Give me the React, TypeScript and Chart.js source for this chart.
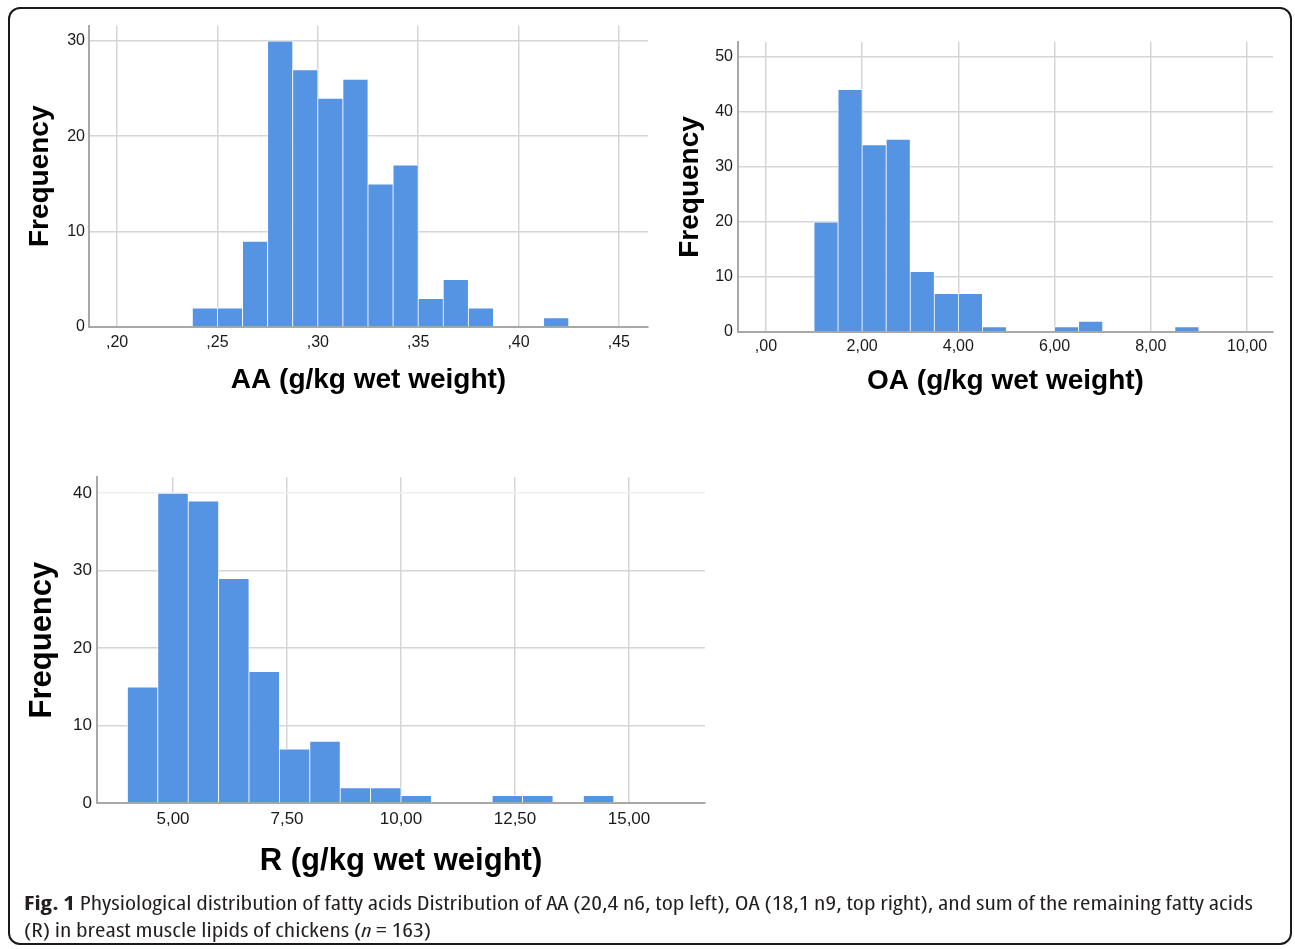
import React, { useEffect, useLayoutEffect, useRef } from "react";
import { Chart, registerables } from "chart.js";

Chart.register(...registerables);

// ---------- data ----------
const AA_BIN_STARTS = [0.2375, 0.25, 0.2625, 0.275, 0.2875, 0.3, 0.3125, 0.325, 0.3375, 0.35, 0.3625, 0.375, 0.3875, 0.4, 0.4125];
const AA_COUNTS = [2, 2, 9, 30, 27, 24, 26, 15, 17, 3, 5, 2, 0, 0, 1];
const AA_BIN_WIDTH = 0.0125;
const AA_X_TICKS = [0.2, 0.25, 0.3, 0.35, 0.4, 0.45];
const AA_Y_TICKS = [0, 10, 20, 30];

const OA_BIN_STARTS = [1, 1.5, 2, 2.5, 3, 3.5, 4, 4.5, 5, 5.5, 6, 6.5, 7, 7.5, 8, 8.5];
const OA_COUNTS = [20, 44, 34, 35, 11, 7, 7, 1, 0, 0, 1, 2, 0, 0, 0, 1];
const OA_BIN_WIDTH = 0.5;
const OA_X_TICKS = [0, 2, 4, 6, 8, 10];
const OA_Y_TICKS = [0, 10, 20, 30, 40, 50];

const R_BIN_STARTS = [4, 4.6667, 5.3333, 6, 6.6667, 7.3333, 8, 8.6667, 9.3333, 10, 10.6667, 11.3333, 12, 12.6667, 13.3333, 14];
const R_COUNTS = [15, 40, 39, 29, 17, 7, 8, 2, 2, 1, 0, 0, 1, 1, 0, 1];
const R_BIN_WIDTH = 0.6667;
const R_X_TICKS = [5, 7.5, 10, 12.5, 15];
const R_Y_TICKS = [0, 10, 20, 30, 40];

const AXIS_TITLE_Y = "Frequency";
const AA_TITLE = "AA (g/kg wet weight)";
const OA_TITLE = "OA (g/kg wet weight)";
const R_TITLE = "R (g/kg wet weight)";

// ---------- styles ----------
const BAR_COLOR = "#5594e3";
const BAR_EDGE = "rgba(255,255,255,0.9)";
const GRID_COLOR = "#d6d6d6";
const AXIS_COLOR = "#a8a8a8";
const TEXT_COLOR = "#1a1a1a";
const FONT = "'Liberation Sans', Arial, Helvetica, sans-serif";

const fmtComma = (v: number) => v.toFixed(2).replace(".", ",").replace(/^0,/, ",");

type Spec = {
  starts: number[];
  counts: number[];
  binWidth: number;
  xTicks: number[];
  yTicks: number[];
  xMin: number;
  xMax: number;
  yMax: number;
  xTitle: string;
  canvas: { x: number; y: number; w: number; h: number };
  area: { left: number; top: number; right: number; bottom: number };
  tickSize: number;
  titleSize: number;
  xTickPad: number;
  yTickPad: number;
  yTitleMid: number;
  xTitleMid: number;
  fadeTop?: number;
};

function buildConfig(s: Spec): any {
  const c = s.canvas;
  const a = s.area;
  const yWidth = a.left - c.x;
  const xHeight = c.y + c.h - a.bottom;
  const padTop = a.top - c.y;
  const padRight = c.x + c.w - a.right;
  const titleLH = s.titleSize * 1.2;
  const yTitlePad = s.yTitleMid - c.x - titleLH / 2;
  const xTitlePad = c.y + c.h - s.xTitleMid - titleLH / 2;
  return {
    type: "bar",
    data: {
      datasets: [
        {
          data: s.starts.map((st, i) => ({ x: st + s.binWidth / 2, y: s.counts[i] })),
          backgroundColor: BAR_COLOR,
          borderColor: BAR_EDGE,
          borderWidth: { top: 1, left: 0.75, right: 0.75, bottom: 0 },
          borderSkipped: false,
          barPercentage: 1,
          categoryPercentage: 1,
          grouped: false,
        },
      ],
    },
    options: {
      responsive: false,
      maintainAspectRatio: false,
      animation: false,
      events: [],
      layout: { padding: { top: padTop, right: padRight, left: 0, bottom: 0 } },
      plugins: { legend: { display: false }, tooltip: { enabled: false }, title: { display: false } },
      scales: {
        x: {
          type: "linear",
          min: s.xMin,
          max: s.xMax,
          offset: false,
          afterBuildTicks: (sc: any) => {
            sc.ticks = s.xTicks.map((v) => ({ value: v }));
          },
          afterFit: (sc: any) => {
            sc.height = xHeight;
          },
          grid: { offset: false, color: GRID_COLOR, lineWidth: 1.5, drawTicks: false },
          border: { display: true, color: AXIS_COLOR, width: 2 },
          ticks: {
            autoSkip: false,
            maxRotation: 0,
            minRotation: 0,
            padding: s.xTickPad,
            color: TEXT_COLOR,
            font: { family: FONT, size: s.tickSize },
            callback: (v: number) => fmtComma(v),
          },
          title: {
            display: true,
            text: s.xTitle,
            color: "#000",
            font: { family: FONT, size: s.titleSize, weight: "bold" },
            padding: { top: 0, bottom: xTitlePad },
          },
        },
        y: {
          type: "linear",
          min: 0,
          max: s.yMax,
          afterBuildTicks: (sc: any) => {
            sc.ticks = s.yTicks.map((v) => ({ value: v }));
          },
          afterFit: (sc: any) => {
            sc.width = yWidth;
          },
          grid: {
            color: (ctx: any) =>
              s.fadeTop !== undefined && ctx.tick && ctx.tick.value === s.fadeTop ? "#efefef" : GRID_COLOR,
            lineWidth: 1.5,
            drawTicks: false,
          },
          border: { display: true, color: AXIS_COLOR, width: 2 },
          ticks: {
            autoSkip: false,
            padding: s.yTickPad,
            color: TEXT_COLOR,
            font: { family: FONT, size: s.tickSize },
            callback: (v: number) => String(v),
          },
          title: {
            display: true,
            text: AXIS_TITLE_Y,
            color: "#000",
            font: { family: FONT, size: s.titleSize, weight: "bold" },
            padding: { top: yTitlePad, bottom: 0 },
          },
        },
      },
    },
  };
}

const SPEC_AA: Spec = {
  starts: AA_BIN_STARTS,
  counts: AA_COUNTS,
  binWidth: AA_BIN_WIDTH,
  xTicks: AA_X_TICKS,
  yTicks: AA_Y_TICKS,
  xMin: 0.186,
  xMax: 0.4645,
  yMax: 31.6,
  xTitle: AA_TITLE,
  canvas: { x: 12, y: 12, w: 645, h: 400 },
  area: { left: 89, top: 25, right: 648, bottom: 327 },
  tickSize: 16,
  titleSize: 28,
  xTickPad: 6,
  yTickPad: 4,
  yTitleMid: 40,
  xTitleMid: 380.5,
};

const SPEC_OA: Spec = {
  starts: OA_BIN_STARTS,
  counts: OA_COUNTS,
  binWidth: OA_BIN_WIDTH,
  xTicks: OA_X_TICKS,
  yTicks: OA_Y_TICKS,
  xMin: -0.58,
  xMax: 10.54,
  yMax: 52.6,
  xTitle: OA_TITLE,
  canvas: { x: 668, y: 26, w: 615, h: 386 },
  area: { left: 738, top: 42, right: 1273, bottom: 332 },
  tickSize: 16,
  titleSize: 28,
  xTickPad: 4.5,
  yTickPad: 5,
  yTitleMid: 690,
  xTitleMid: 381.5,
};

const SPEC_R: Spec = {
  starts: R_BIN_STARTS,
  counts: R_COUNTS,
  binWidth: R_BIN_WIDTH,
  xTicks: R_X_TICKS,
  yTicks: R_Y_TICKS,
  xMin: 3.333,
  xMax: 16.667,
  yMax: 42.06,
  xTitle: R_TITLE,
  canvas: { x: 12, y: 462, w: 705, h: 430 },
  area: { left: 97, top: 475, right: 705, bottom: 803 },
  tickSize: 17,
  titleSize: 31,
  xTickPad: 6.4,
  yTickPad: 5,
  yTitleMid: 42,
  xTitleMid: 861,
  fadeTop: 40,
};

function Histogram({ spec }: { spec: Spec }) {
  const ref = useRef<HTMLCanvasElement>(null);
  useEffect(() => {
    if (!ref.current) return;
    const chart = new Chart(ref.current, buildConfig(spec));
    return () => chart.destroy();
  }, [spec]);
  const c = spec.canvas;
  return (
    <canvas
      ref={ref}
      width={c.w}
      height={c.h}
      style={{ position: "absolute", left: c.x, top: c.y, width: c.w, height: c.h }}
    />
  );
}

const CAPTION_LABEL = "Fig. 1";
const CAPTION_LINE1 =
  " Physiological distribution of fatty acids Distribution of AA (20,4 n6, top left), OA (18,1 n9, top right), and sum of the remaining fatty acids";
const CAPTION_LINE2_A = "(R) in breast muscle lipids of chickens (";
const CAPTION_LINE2_N = "n";
const CAPTION_LINE2_B = " = 163)";

function Caption() {
  const l1 = useRef<HTMLSpanElement>(null);
  const l2 = useRef<HTMLSpanElement>(null);
  useLayoutEffect(() => {
    if (!l1.current || !l2.current) return;
    const w = l1.current.getBoundingClientRect().width;
    const sc = 1229 / w;
    l1.current.style.transform = `scaleX(${sc})`;
    l2.current.style.transform = `scaleX(${sc})`;
  }, []);
  const lineStyle: React.CSSProperties = {
    display: "inline-block",
    whiteSpace: "nowrap",
    transformOrigin: "0 0",
  };
  return (
    <div
      style={{
        position: "absolute",
        left: 24,
        top: 890,
        fontFamily: "'Liberation Sans Narrow', 'Open Sans', sans-serif",
        fontStretch: "condensed",
        fontSize: 19,
        lineHeight: "27px",
        color: "#231f20",
      }}
    >
      <div>
        <span ref={l1} style={lineStyle}>
          <b>{CAPTION_LABEL}</b>
          {CAPTION_LINE1}
        </span>
      </div>
      <div>
        <span ref={l2} style={lineStyle}>
          {CAPTION_LINE2_A}
          <i>{CAPTION_LINE2_N}</i>
          {CAPTION_LINE2_B}
        </span>
      </div>
    </div>
  );
}

export default function App() {
  return (
    <div style={{ position: "absolute", left: 0, top: 0, width: 1295, height: 949, background: "#fff", overflow: "hidden" }}>
      <div
        style={{
          position: "absolute",
          left: 8,
          top: 7,
          width: 1284,
          height: 938,
          boxSizing: "border-box",
          border: "2px solid #1a1a1a",
          borderRadius: 12,
        }}
      />
      <Histogram spec={SPEC_AA} />
      <Histogram spec={SPEC_OA} />
      <Histogram spec={SPEC_R} />
      <Caption />
    </div>
  );
}
